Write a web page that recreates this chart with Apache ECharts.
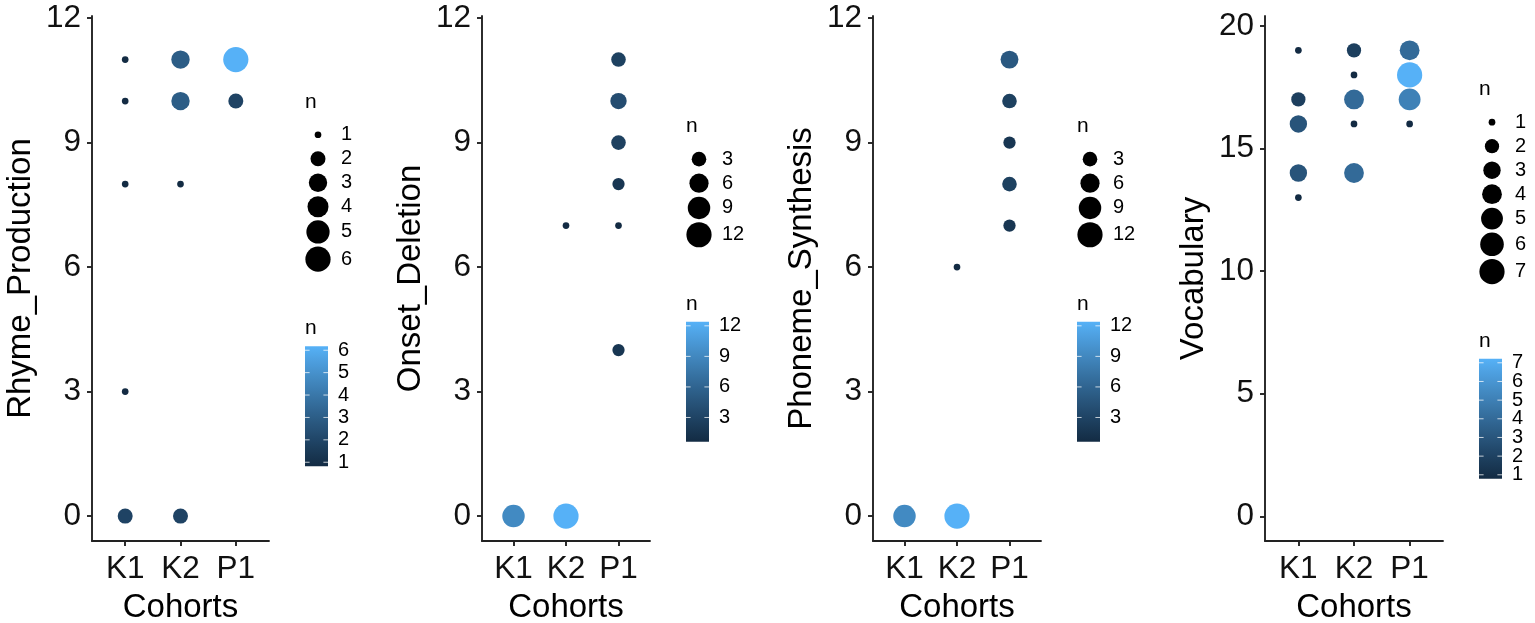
<!DOCTYPE html>
<html>
<head>
<meta charset="utf-8">
<script src="https://cdn.jsdelivr.net/npm/echarts@6/dist/echarts.min.js"></script>
<style>
  html, body { margin:0; padding:0; background:#fff; }
  #chart { width:1535px; height:623px; }
</style>
</head>
<body>
<div id="chart"></div>
<script>
// ---------------- DATA ----------------
const cohorts = ['K1', 'K2', 'P1'];
const xTitle = 'Cohorts';
const panelTitles = ['Rhyme_Production', 'Onset_Deletion', 'Phoneme_Synthesis', 'Vocabulary'];

const rhymeCohort = ['K1','K1','K1','K1','K1','K2','K2','K2','K2','P1','P1'];
const rhymeScore  = [11, 10, 8, 3, 0, 11, 10, 8, 0, 11, 10];
const rhymeN      = [1, 1, 1, 1, 2, 3, 3, 1, 2, 6, 2];

const onsetCohort = ['K1','K2','K2','P1','P1','P1','P1','P1','P1'];
const onsetScore  = [0, 7, 0, 11, 10, 9, 8, 7, 4];
const onsetN      = [9, 1, 12, 3, 4, 3, 2, 1, 2];

const phonemeCohort = ['K1','K2','K2','P1','P1','P1','P1','P1'];
const phonemeScore  = [0, 6, 0, 11, 10, 9, 8, 7];
const phonemeN      = [9, 1, 12, 5, 3, 2, 3, 2];

const vocabCohort = ['K1','K1','K1','K1','K1','K2','K2','K2','K2','K2','P1','P1','P1','P1'];
const vocabScore  = [19, 17, 16, 14, 13, 19, 18, 17, 16, 14, 19, 18, 17, 16];
const vocabN      = [1, 2, 3, 3, 1, 2, 1, 4, 1, 4, 4, 7, 5, 1];

const yTicks12 = [0, 3, 6, 9, 12];
const yTicks20 = [0, 5, 10, 15, 20];

const sizeBreaksRhyme   = [1, 2, 3, 4, 5, 6];
const sizeBreaksOnset   = [3, 6, 9, 12];
const sizeBreaksPhoneme = [3, 6, 9, 12];
const sizeBreaksVocab   = [1, 2, 3, 4, 5, 6, 7];

// ---------------- HELPERS ----------------
const FONT = '"Liberation Sans", Arial, Helvetica, sans-serif';
const LOW = '#132B43', HIGH = '#56B1F7';

function hex2rgb(h) { h = h.replace('#',''); return [parseInt(h.slice(0,2),16), parseInt(h.slice(2,4),16), parseInt(h.slice(4,6),16)]; }
function toLin(c) { c /= 255; return c <= 0.04045 ? c / 12.92 : Math.pow((c + 0.055) / 1.055, 2.4); }
function fromLin(c) { c = c <= 0.0031308 ? 12.92 * c : 1.055 * Math.pow(c, 1/2.4) - 0.055; return Math.round(Math.max(0, Math.min(1, c)) * 255); }
const Xn = 0.95047, Yn = 1.0, Zn = 1.08883;
function fLab(t) { return t > 0.008856 ? Math.cbrt(t) : 7.787 * t + 16/116; }
function fInv(t) { return t > 0.206893 ? t*t*t : (t - 16/116) / 7.787; }
function rgb2lab(rgb) {
  const [r, g, b] = rgb.map(toLin);
  const X = 0.4124*r + 0.3576*g + 0.1805*b, Y = 0.2126*r + 0.7152*g + 0.0722*b, Z = 0.0193*r + 0.1192*g + 0.9505*b;
  const fx = fLab(X/Xn), fy = fLab(Y/Yn), fz = fLab(Z/Zn);
  return [116*fy - 16, 500*(fx - fy), 200*(fy - fz)];
}
function lab2hex(lab) {
  const fy = (lab[0] + 16) / 116, fx = fy + lab[1]/500, fz = fy - lab[2]/200;
  const X = Xn*fInv(fx), Y = Yn*fInv(fy), Z = Zn*fInv(fz);
  const r = 3.2406*X - 1.5372*Y - 0.4986*Z, g = -0.9689*X + 1.8758*Y + 0.0415*Z, b = 0.0557*X - 0.2040*Y + 1.0570*Z;
  return '#' + [r, g, b].map(v => fromLin(v).toString(16).padStart(2, '0')).join('');
}
const labLow = rgb2lab(hex2rgb(LOW)), labHigh = rgb2lab(hex2rgb(HIGH));
function gradColor(t) { t = Math.max(0, Math.min(1, t)); return lab2hex(labLow.map((v, i) => v + (labHigh[i] - v) * t)); }

function sizeOf(n, lo, hi) { const s = 1 + 5 * Math.sqrt((n - lo) / (hi - lo)); return 3 + 3.7 * s; }

// ---------------- PANELS ----------------
const panelData = [
  { cohort: rhymeCohort, score: rhymeScore, n: rhymeN, ticks: yTicks12, breaks: sizeBreaksRhyme },
  { cohort: onsetCohort, score: onsetScore, n: onsetN, ticks: yTicks12, breaks: sizeBreaksOnset },
  { cohort: phonemeCohort, score: phonemeScore, n: phonemeN, ticks: yTicks12, breaks: sizeBreaksPhoneme },
  { cohort: vocabCohort, score: vocabScore, n: vocabN, ticks: yTicks20, breaks: sizeBreaksVocab }
];
const layout = [
  { left: 92,   right: 269,  ymin: -0.6, ymax: 12.05 },
  { left: 482,  right: 650,  ymin: -0.6, ymax: 12.05 },
  { left: 873,  right: 1041, ymin: -0.6, ymax: 12.05 },
  { left: 1265, right: 1443, ymin: -1,   ymax: 20.4 }
];
const GRID_TOP = 16, GRID_H = 525;
const AX_COLOR = '#222';

const grids = [], xAxes = [], yAxes = [], series = [], graphics = [];

panelData.forEach((p, i) => {
  const L = layout[i];
  const lo = Math.min(...p.n), hi = Math.max(...p.n);
  grids.push({ left: L.left, top: GRID_TOP, width: L.right - L.left, height: GRID_H, containLabel: false, outerBoundsMode: 'none' });
  xAxes.push({
    gridIndex: i, type: 'value', min: 0.4, max: 3.6,
    name: xTitle, nameLocation: 'middle', nameGap: 50,
    nameTextStyle: { fontSize: 33, color: '#000', fontFamily: FONT },
    axisLine: { show: true, onZero: false, lineStyle: { color: AX_COLOR, width: 1.9 } },
    axisTick: { show: true, customValues: [1, 2, 3], length: 5, lineStyle: { color: AX_COLOR, width: 1.9 } },
    axisLabel: { customValues: [1, 2, 3], formatter: v => cohorts[Math.round(v) - 1], fontSize: 31.5, color: '#111', fontFamily: FONT, margin: 12 },
    splitLine: { show: false }
  });
  yAxes.push({
    gridIndex: i, type: 'value', min: L.ymin, max: L.ymax,
    name: panelTitles[i], nameLocation: 'middle', nameRotate: 90, nameGap: 55,
    nameTextStyle: { fontSize: 33, color: '#000', fontFamily: FONT },
    axisLine: { show: true, onZero: false, lineStyle: { color: AX_COLOR, width: 1.9 } },
    axisTick: { show: true, customValues: p.ticks, length: 5, lineStyle: { color: AX_COLOR, width: 1.9 } },
    axisLabel: { customValues: p.ticks, fontSize: 31.5, color: '#111', fontFamily: FONT, margin: 11 },
    splitLine: { show: false }
  });
  series.push({
    type: 'scatter', xAxisIndex: i, yAxisIndex: i, clip: false,
    data: p.cohort.map((c, k) => [cohorts.indexOf(c) + 1, p.score[k], p.n[k]]),
    symbol: 'circle',
    symbolSize: v => sizeOf(v[2], lo, hi),
    itemStyle: { color: prm => gradColor((prm.data[2] - lo) / (hi - lo)), opacity: 1 },
    emphasis: { disabled: true }
  });

  // ---- legends (size + colourbar) ----
  const cx = L.right + 49;
  const ds = p.breaks.map(b => sizeOf(b, lo, hi));
  const hs = ds.map(d => Math.max(24, d + 3));
  const sumH = hs.reduce((a, b) => a + b, 0);
  const BAR_H = 120;
  const total = 21 + sumH + 55 + 18 + BAR_H;
  const titleY = 284 - total / 2;
  const txt = (text, x, y, size, align) => ({
    type: 'text', silent: true,
    style: { text: text, x: x, y: y, fill: '#000', font: size + 'px ' + FONT, align: align || 'left', verticalAlign: 'middle' }
  });
  graphics.push(txt('n', cx - 13, titleY, 21));
  let yy = titleY + 21;
  p.breaks.forEach((b, k) => {
    const yc = yy + hs[k] / 2;
    graphics.push({ type: 'circle', silent: true, shape: { cx: cx, cy: yc, r: ds[k] / 2 }, style: { fill: '#000' } });
    graphics.push(txt(String(b), cx + 23, yc, 20));
    yy += hs[k];
  });
  const cbTitle = yy + 55;
  graphics.push(txt('n', cx - 13, cbTitle, 21));
  const barTop = cbTitle + 18;
  const barL = cx - 13, barW = 23;
  const barBot = barTop + BAR_H;
  const stops = [];
  for (let s = 0; s <= 20; s++) stops.push({ offset: s / 20, color: gradColor(s / 20) });
  graphics.push({
    type: 'rect', silent: true,
    shape: { x: barL, y: barTop, width: barW, height: BAR_H },
    style: { fill: new echarts.graphic.LinearGradient(0, 1, 0, 0, stops) }
  });
  p.breaks.forEach(b => {
    const y = barBot - 4 - (b - lo) / (hi - lo) * (BAR_H - 8);
    graphics.push({ type: 'line', silent: true, shape: { x1: barL, y1: y, x2: barL + 4.6, y2: y }, style: { stroke: 'rgba(255,255,255,0.75)', lineWidth: 1 } });
    graphics.push({ type: 'line', silent: true, shape: { x1: barL + barW - 4.6, y1: y, x2: barL + barW, y2: y }, style: { stroke: 'rgba(255,255,255,0.75)', lineWidth: 1 } });
    graphics.push(txt(String(b), barL + barW + 10, y, 20));
  });
});

const chart = echarts.init(document.getElementById('chart'), null, { renderer: 'canvas' });
chart.setOption({
  animation: false,
  backgroundColor: '#fff',
  textStyle: { fontFamily: FONT },
  grid: grids,
  xAxis: xAxes,
  yAxis: yAxes,
  series: series,
  graphic: graphics
});
</script>
</body>
</html>
